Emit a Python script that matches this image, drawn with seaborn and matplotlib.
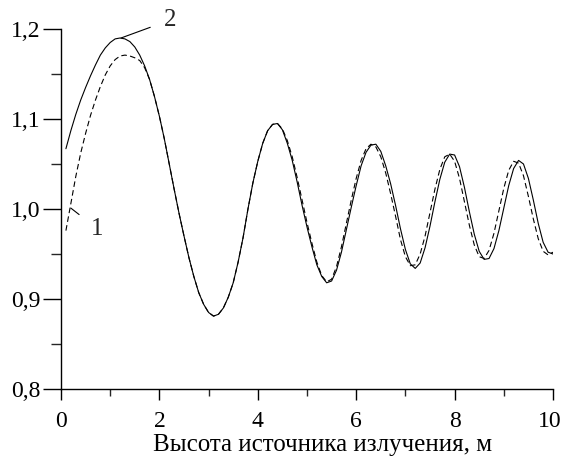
import numpy as np
import pandas as pd
import matplotlib
matplotlib.use("Agg")
import matplotlib.pyplot as plt
import matplotlib.transforms as mtransforms
import seaborn as sns
from matplotlib.ticker import MultipleLocator, FuncFormatter

# Heights (m)
x_vals = [round(0.1 * i, 1) for i in range(1, 101)]

# Curve 2 (solid)
curve2 = [1.067, 1.087, 1.105, 1.121, 1.135, 1.148, 1.160, 1.171, 1.179, 1.185,
          1.189, 1.190, 1.189, 1.186, 1.180, 1.171, 1.159, 1.144, 1.125, 1.103,
          1.078, 1.050, 1.022, 0.995, 0.970, 0.946, 0.925, 0.907, 0.894, 0.885,
          0.881, 0.883, 0.890, 0.902, 0.918, 0.941, 0.968, 1.000, 1.029, 1.053,
          1.073, 1.087, 1.094, 1.095, 1.088, 1.073, 1.054, 1.030, 1.004, 0.980,
          0.958, 0.938, 0.925, 0.918, 0.920, 0.932, 0.952, 0.977, 1.002, 1.026,
          1.048, 1.063, 1.071, 1.072, 1.064, 1.048, 1.028, 1.004, 0.978, 0.955,
          0.939, 0.934, 0.940, 0.957, 0.981, 1.008, 1.033, 1.052, 1.061, 1.060,
          1.047, 1.024, 0.997, 0.972, 0.953, 0.944, 0.945, 0.956, 0.976, 1.001,
          1.026, 1.045, 1.054, 1.050, 1.034, 1.010, 0.984, 0.963, 0.952, 0.950]

# Curve 1 (dashed)
curve1 = [0.976, 1.006, 1.036, 1.062, 1.084, 1.104, 1.121, 1.136, 1.149, 1.159,
          1.166, 1.170, 1.171, 1.170, 1.168, 1.165, 1.157, 1.144, 1.125, 1.103,
          1.078, 1.050, 1.022, 0.995, 0.970, 0.946, 0.925, 0.907, 0.894, 0.885,
          0.881, 0.883, 0.890, 0.902, 0.918, 0.941, 0.968, 1.000, 1.029, 1.053,
          1.073, 1.087, 1.094, 1.095, 1.089, 1.076, 1.058, 1.035, 1.010, 0.985,
          0.962, 0.941, 0.926, 0.919, 0.922, 0.936, 0.958, 0.984, 1.010, 1.034,
          1.054, 1.067, 1.072, 1.069, 1.058, 1.040, 1.017, 0.992, 0.966, 0.947,
          0.937, 0.938, 0.950, 0.970, 0.996, 1.022, 1.044, 1.058, 1.061, 1.053,
          1.034, 1.008, 0.982, 0.960, 0.947, 0.945, 0.954, 0.973, 0.998, 1.023,
          1.043, 1.053, 1.051, 1.037, 1.014, 0.989, 0.967, 0.953, 0.949, 0.952]

x_ticks = [0, 2, 4, 6, 8, 10]
y_ticks = [0.8, 0.9, 1.0, 1.1, 1.2]
x_label = "Высота источника излучения, м"

df = pd.DataFrame({
    "x": x_vals * 2,
    "y": curve2 + curve1,
    "curve": ["2"] * len(x_vals) + ["1"] * len(x_vals),
})

sns.set_theme(style="ticks")
plt.rcParams["font.family"] = ["Liberation Serif", "DejaVu Serif"]

fig = plt.figure(figsize=(5.63, 4.62), dpi=100)
ax = fig.add_axes([61 / 563, 1 - 389 / 462, (553 - 61) / 563, (389 - 29) / 462])

sns.lineplot(data=df, x="x", y="y", style="curve", style_order=["2", "1"],
             dashes={"2": "", "1": (5, 3)}, color="black", linewidth=0.8,
             legend=False, ax=ax)

ax.set_xlim(0, 10)
ax.set_ylim(0.8, 1.2)
ax.set_xticks(x_ticks)
ax.set_yticks(y_ticks)
ax.xaxis.set_minor_locator(MultipleLocator(1))
ax.yaxis.set_minor_locator(MultipleLocator(0.05))
ax.yaxis.set_major_formatter(FuncFormatter(lambda v, p: f"{v:.1f}".replace(".", ",")))
ax.xaxis.set_major_formatter(FuncFormatter(lambda v, p: f"{v:.0f}"))

for s in ["top", "right"]:
    ax.spines[s].set_visible(False)
for s in ["left", "bottom"]:
    ax.spines[s].set_linewidth(1.0)
    ax.spines[s].set_color("black")

ax.tick_params(axis="y", which="major", direction="out", length=13, width=1.0,
               labelsize=17, pad=2, colors="black")
ax.tick_params(axis="y", which="minor", direction="out", length=7, width=1.0)
ax.tick_params(axis="x", which="major", direction="out", length=8, width=1.0,
               labelsize=17, pad=8, colors="black")
ax.tick_params(axis="x", which="minor", direction="out", length=5, width=1.0)

ax.set_xlabel(x_label, fontsize=18, color="black", labelpad=0)
ax.xaxis.set_label_coords((323 - 61) / 492, -0.125)
ax.set_ylabel("")

# nudge the last x tick label so it stays inside the figure
fig.canvas.draw()
last = ax.get_xticklabels()[-1]
last.set_transform(last.get_transform() +
                   mtransforms.ScaledTranslation(-3 / 100, 0, fig.dpi_scale_trans))

# curve labels
ax.annotate("2", xy=(1.22, 1.190), xytext=(2.22, 1.21), fontsize=18,
            ha="center", va="center", annotation_clip=False,
            arrowprops=dict(arrowstyle="-", color="black", lw=0.8,
                            shrinkA=8, shrinkB=0))
ax.annotate("1", xy=(0.2, 1.001), xytext=(0.74, 0.978), fontsize=18,
            ha="center", va="center", annotation_clip=False,
            arrowprops=dict(arrowstyle="-", color="black", lw=0.8,
                            shrinkA=8, shrinkB=0))

fig.savefig("out.png", dpi=100, facecolor="white")
